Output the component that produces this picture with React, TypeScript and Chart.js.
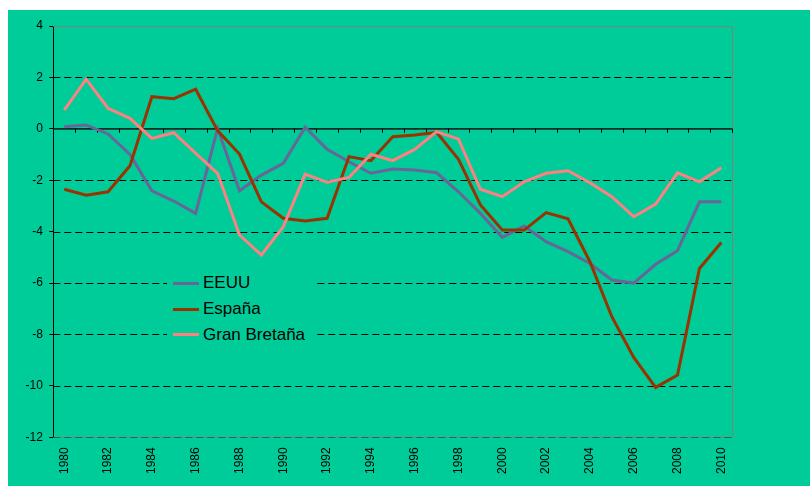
import React, { useEffect, useRef } from "react";
import { Chart, registerables } from "chart.js";

Chart.register(...registerables);

const years = [
  "1980", "1981", "1982", "1983", "1984", "1985", "1986", "1987", "1988", "1989",
  "1990", "1991", "1992", "1993", "1994", "1995", "1996", "1997", "1998", "1999",
  "2000", "2001", "2002", "2003", "2004", "2005", "2006", "2007", "2008", "2009", "2010",
];

const eeuu = [
  0.08, 0.15, -0.2, -1.0, -2.41, -2.81, -3.29, 0.02, -2.41, -1.8, -1.34, 0.06, -0.8,
  -1.28, -1.73, -1.56, -1.6, -1.71, -2.45, -3.29, -4.22, -3.78, -4.39, -4.78,
  -5.24, -5.88, -6.0, -5.27, -4.74, -2.84, -2.84,
];

const espana = [
  -2.35, -2.58, -2.45, -1.44, 1.25, 1.17, 1.54, -0.07, -0.98, -2.84, -3.48, -3.59, -3.48,
  -1.08, -1.24, -0.31, -0.24, -0.14, -1.19, -2.96, -3.94, -3.94, -3.26, -3.5,
  -5.17, -7.31, -8.89, -10.06, -9.58, -5.43, -4.42,
];

const granBretana = [
  0.73, 1.93, 0.8, 0.41, -0.37, -0.15, -0.95, -1.73, -4.13, -4.91, -3.81, -1.76, -2.08,
  -1.89, -0.99, -1.24, -0.8, -0.11, -0.4, -2.35, -2.64, -2.06, -1.73, -1.63,
  -2.1, -2.64, -3.42, -2.93, -1.71, -2.06, -1.51,
];

const seriesNames = ["EEUU", "España", "Gran Bretaña"];
const seriesColors = ["#666699", "#993300", "#FF8080"];

const yMin = -12;
const yMax = 4;
const yStep = 2;

const FONT = "'Liberation Sans', Arial, Helvetica, sans-serif";
const BG = "#00CC99";

const excelGrid = {
  id: "excelGrid",
  beforeDatasetsDraw(chart: any) {
    const { ctx, chartArea, scales } = chart;
    const { left, right, top, bottom } = chartArea;
    const x = scales.x;
    const y = scales.y;
    const al = (p: number) => Math.round(p) + 0.5;
    ctx.save();
    ctx.lineWidth = 1;
    ctx.setLineDash([]);
    ctx.strokeStyle = "#808080";
    ctx.beginPath();
    ctx.moveTo(left, al(top));
    ctx.lineTo(al(right), al(top));
    ctx.lineTo(al(right), al(bottom));
    ctx.lineTo(left, al(bottom));
    ctx.stroke();
    y.ticks.forEach((t: any) => {
      const v = t.value;
      if (v === 0 || v === yMax) return;
      const py = al(y.getPixelForValue(v));
      ctx.setLineDash([7, 4]);
      ctx.strokeStyle = v === yMin ? "rgba(40,70,60,0.7)" : "#000000";
      ctx.beginPath();
      ctx.moveTo(left, py);
      ctx.lineTo(right, py);
      ctx.stroke();
    });
    ctx.setLineDash([]);
    ctx.strokeStyle = "#0b2e25";
    const pz = y.getPixelForValue(0);
    ctx.lineWidth = 1.6;
    ctx.beginPath();
    ctx.moveTo(left, pz);
    ctx.lineTo(right, pz);
    ctx.stroke();
    ctx.lineWidth = 1;
    ctx.strokeStyle = "#000000";
    const n = years.length;
    for (let i = 1; i <= n; i++) {
      let px: number;
      if (i === n) px = right;
      else px = (x.getPixelForValue(i - 1) + x.getPixelForValue(i)) / 2;
      const ax = al(px);
      ctx.beginPath();
      ctx.moveTo(ax, pz);
      ctx.lineTo(ax, pz + 4);
      ctx.stroke();
    }
    ctx.restore();
  },
};

export default function App() {
  const canvasRef = useRef<HTMLCanvasElement | null>(null);

  useEffect(() => {
    if (!canvasRef.current) return;
    const datasets = [eeuu, espana, granBretana].map((d, i) => ({
      label: seriesNames[i],
      data: d,
      borderColor: seriesColors[i],
      backgroundColor: seriesColors[i],
      borderWidth: 3,
      pointRadius: 0,
      pointHoverRadius: 0,
      tension: 0,
      fill: false,
      order: 3 - i,
    }));
    const chart = new Chart(canvasRef.current, {
      type: "line",
      data: { labels: years, datasets },
      plugins: [excelGrid],
      options: {
        animation: false,
        responsive: false,
        maintainAspectRatio: false,
        layout: { padding: { left: 0, top: 16, right: 77.7, bottom: 0 } },
        plugins: {
          legend: { display: false },
          tooltip: { enabled: false },
        },
        scales: {
          x: {
            type: "category",
            offset: true,
            grid: { display: false, drawTicks: false, offset: true },
            border: { display: false },
            ticks: {
              autoSkip: false,
              minRotation: 90,
              maxRotation: 90,
              padding: 10,
              color: "#000000",
              font: { family: FONT, size: 12 },
              callback: (_v: any, i: number) => (i % 2 === 0 ? years[i] : ""),
            },
            afterFit: (s: any) => {
              s.height = 48.7;
            },
          },
          y: {
            min: yMin,
            max: yMax,
            grid: {
              drawOnChartArea: false,
              drawTicks: true,
              tickLength: 4,
              tickColor: "#000000",
              tickWidth: 1,
            },
            border: { display: true, color: "#000000", width: 1 },
            ticks: {
              stepSize: yStep,
              padding: 6.5,
              color: "#000000",
              font: { family: FONT, size: 12 },
            },
            afterFit: (s: any) => {
              s.width = 45.3;
            },
          },
        },
      },
    });
    return () => chart.destroy();
  }, []);

  const legendRows = seriesNames.map((name, i) => (
    <div
      key={name}
      style={{
        position: "absolute",
        left: 6,
        top: 4.3 + i * 25.8,
        height: 20,
        display: "flex",
        alignItems: "center",
        whiteSpace: "nowrap",
      }}
    >
      <div style={{ width: 26, height: 3, background: seriesColors[i] }} />
      <span
        style={{
          marginLeft: 4,
          fontFamily: FONT,
          fontSize: 17,
          lineHeight: "20px",
          color: "#000000",
        }}
      >
        {name}
      </span>
    </div>
  ));

  return (
    <div
      style={{
        position: "absolute",
        left: 0,
        top: 0,
        width: 810,
        height: 486,
        background: "#ffffff",
        overflow: "hidden",
      }}
    >
      <div
        style={{
          position: "absolute",
          left: 8,
          top: 10,
          width: 802,
          height: 476,
          background: BG,
        }}
      >
        <canvas ref={canvasRef} width={802} height={476} style={{ display: "block" }} />
      </div>
      <div
        style={{
          position: "absolute",
          left: 167,
          top: 269,
          width: 149,
          height: 80,
          background: BG,
        }}
      >
        {legendRows}
      </div>
    </div>
  );
}
